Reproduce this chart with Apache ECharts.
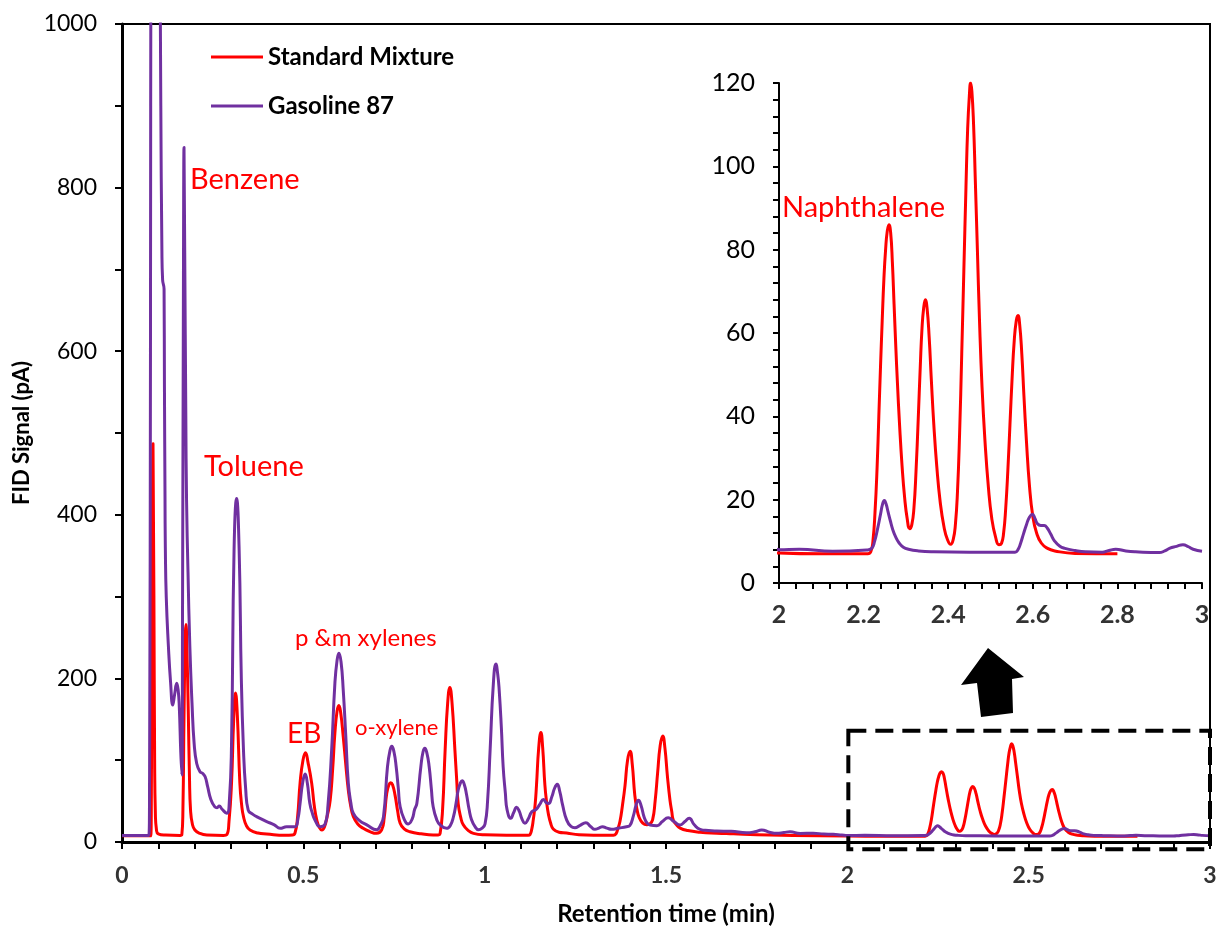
<!DOCTYPE html>
<html>
<head>
<meta charset="utf-8">
<script src="https://cdn.jsdelivr.net/npm/echarts@6/dist/echarts.min.js"></script>
<style>
html, body { margin: 0; padding: 0; background: #fff; }
#chart { width: 1225px; height: 931px; }
</style>
</head>
<body>
<div id="chart"></div>
<script>
// retention time (min), FID signal (pA)
const standardMix = [
	[0, 7.5], [0.079, 7.5], [0.081, 60], [0.083, 300], [0.0855, 487], [0.088, 300], [0.09, 100], [0.092, 35],
	[0.095, 15], [0.1, 10], [0.12, 8.5], [0.16, 8], [0.165, 9], [0.168, 40], [0.171, 153], [0.174, 240],
	[0.1765, 266], [0.179, 235], [0.183, 153], [0.186, 80], [0.189, 39], [0.194, 22], [0.201, 14.7], [0.215, 10.5],
	[0.234, 8.6], [0.28, 8], [0.289, 9], [0.295, 25], [0.302, 72], [0.308, 150], [0.313, 182], [0.318, 155],
	[0.325, 72], [0.33, 45], [0.335, 31], [0.343, 20], [0.353, 14.7], [0.375, 11], [0.399, 9.8], [0.45, 8.2],
	[0.47, 8.5], [0.477, 11], [0.484, 30], [0.491, 72], [0.499, 100], [0.506, 109], [0.513, 97], [0.523, 72],
	[0.53, 45], [0.537, 27], [0.544, 18], [0.551, 14.7], [0.558, 18], [0.566, 32], [0.574, 51], [0.581, 90],
	[0.587, 133], [0.593, 160], [0.598, 167], [0.603, 158], [0.61, 129], [0.617, 95], [0.624, 63.6], [0.631, 43],
	[0.638, 31], [0.65, 22], [0.665, 16.7], [0.682, 13], [0.702, 10.6], [0.716, 14.7], [0.723, 30], [0.73, 59.5],
	[0.736, 70], [0.741, 72.5], [0.746, 70], [0.753, 57], [0.76, 38], [0.767, 23], [0.778, 16], [0.794, 12.6],
	[0.825, 10], [0.858, 8.6], [0.872, 8.6], [0.877, 10], [0.884, 40], [0.891, 112.5], [0.898, 170], [0.904, 189],
	[0.91, 170], [0.918, 112], [0.923, 75], [0.927, 47], [0.934, 30], [0.941, 21], [0.955, 14], [0.969, 10.6],
	[1.0, 8.8], [1.06, 8.2], [1.12, 8.2], [1.125, 9], [1.13, 16], [1.134, 27], [1.139, 45], [1.143, 70],
	[1.149, 115], [1.155, 134], [1.16, 115], [1.166, 70], [1.171, 48], [1.176, 33.5], [1.182, 23], [1.189, 16],
	[1.205, 12], [1.226, 11], [1.26, 8.8], [1.3, 8.2], [1.355, 8.2], [1.362, 10], [1.367, 16], [1.373, 25],
	[1.38, 45], [1.387, 69], [1.394, 100], [1.401, 111], [1.407, 95], [1.414, 57], [1.42, 40], [1.426, 30],
	[1.436, 23], [1.447, 21], [1.455, 22], [1.463, 27], [1.47, 50], [1.477, 85], [1.484, 118], [1.491, 129.6],
	[1.497, 115], [1.504, 80], [1.511, 51], [1.516, 37], [1.52, 27], [1.529, 21], [1.539, 17], [1.56, 14],
	[1.594, 12], [1.64, 10.8], [1.686, 10], [1.75, 8.8], [1.85, 8], [2.0, 7.2], [2.1, 7], [2.21, 7],
	[2.217, 7.5], [2.222, 10], [2.227, 17], [2.232, 28], [2.236, 40], [2.24, 52], [2.244, 63], [2.248, 73],
	[2.252, 80], [2.256, 84.5], [2.26, 86], [2.264, 84], [2.268, 77], [2.272, 67], [2.276, 57], [2.28, 48],
	[2.285, 38], [2.291, 28], [2.297, 20.5], [2.303, 15.5], [2.309, 13], [2.314, 14], [2.319, 18], [2.324, 27],
	[2.329, 39], [2.334, 52], [2.338, 61], [2.342, 66], [2.346, 68], [2.35, 66], [2.355, 59], [2.36, 49],
	[2.366, 38], [2.373, 28], [2.381, 19.5], [2.39, 13.5], [2.398, 10.5], [2.406, 9.3], [2.412, 10.5], [2.417, 14],
	[2.422, 22], [2.427, 36], [2.432, 55], [2.437, 75], [2.442, 95], [2.446, 109], [2.45, 117], [2.453, 120],
	[2.456, 118], [2.46, 110], [2.464, 97], [2.469, 80], [2.474, 63], [2.48, 47], [2.487, 34], [2.495, 23],
	[2.503, 15.5], [2.512, 11], [2.52, 9.2], [2.526, 9.5], [2.531, 12], [2.536, 18], [2.541, 27], [2.546, 38],
	[2.551, 49], [2.556, 58], [2.561, 63], [2.565, 64.2], [2.569, 62], [2.574, 55], [2.579, 45], [2.585, 34],
	[2.592, 23.5], [2.6, 16], [2.609, 12], [2.62, 9.6], [2.635, 8.3], [2.652, 7.7], [2.7, 7.1], [2.8, 7]
];

const gasoline87 = [
	[0, 8], [0.074, 8], [0.076, 80], [0.0785, 600], [0.08, 1200], [0.088, 1700], [0.098, 1500], [0.104, 1150],
	[0.107, 900], [0.11, 724], [0.112, 687], [0.116, 676], [0.117, 560], [0.1186, 420], [0.1195, 360], [0.122, 300],
	[0.128, 239], [0.134, 195], [0.14, 167.5], [0.145, 180], [0.151, 194], [0.155, 185], [0.158, 165], [0.162, 110],
	[0.165, 82], [0.167, 300], [0.1695, 700], [0.171, 849], [0.173, 720], [0.176, 520], [0.178, 418], [0.182, 330],
	[0.187, 240], [0.193, 170], [0.199, 120], [0.206, 96], [0.215, 86], [0.222, 84], [0.229, 80], [0.236, 68],
	[0.245, 52], [0.256, 43], [0.262, 42], [0.268, 44], [0.276, 40], [0.289, 35], [0.296, 50], [0.302, 120],
	[0.309, 357], [0.316, 420], [0.323, 357], [0.329, 200], [0.335, 112], [0.341, 65], [0.348, 39], [0.36, 34],
	[0.371, 31], [0.385, 28], [0.399, 25], [0.42, 21], [0.436, 16.7], [0.454, 18.7], [0.477, 18.7], [0.485, 28],
	[0.491, 47], [0.498, 72], [0.505, 83], [0.511, 72], [0.518, 47], [0.525, 35], [0.532, 27], [0.546, 18.7],
	[0.56, 22], [0.568, 45], [0.578, 112], [0.587, 194], [0.593, 222], [0.598, 230.6], [0.604, 220], [0.61, 186],
	[0.617, 130], [0.624, 72], [0.631, 48], [0.638, 35], [0.655, 26], [0.675, 21], [0.702, 15], [0.712, 20],
	[0.721, 31], [0.732, 92], [0.739, 112], [0.744, 117], [0.75, 110], [0.756, 92], [0.762, 65], [0.767, 43],
	[0.778, 28], [0.789, 22], [0.8, 28], [0.807, 40], [0.813, 47], [0.824, 92], [0.83, 110], [0.835, 114.5],
	[0.841, 108], [0.847, 92], [0.853, 65], [0.858, 43], [0.868, 27], [0.877, 21], [0.895, 16.7], [0.905, 20],
	[0.914, 31], [0.921, 47], [0.927, 63.6], [0.933, 72], [0.938, 75], [0.944, 70], [0.95, 58], [0.957, 40],
	[0.964, 27], [0.973, 19], [0.983, 15], [0.993, 17], [1.001, 22], [1.008, 50], [1.015, 112], [1.024, 194],
	[1.031, 217.6], [1.036, 205], [1.04, 186], [1.046, 140], [1.051, 92], [1.057, 60], [1.062, 39], [1.072, 29],
	[1.08, 36], [1.088, 42.5], [1.095, 38], [1.103, 28], [1.111, 23], [1.12, 28], [1.13, 37], [1.142, 40],
	[1.152, 46], [1.162, 52], [1.17, 48], [1.176, 47], [1.185, 55], [1.193, 66], [1.2, 70.5], [1.207, 62],
	[1.215, 45], [1.226, 27], [1.238, 19], [1.249, 17.5], [1.262, 20], [1.279, 23.6], [1.292, 19], [1.304, 15.5],
	[1.315, 17], [1.325, 18.7], [1.337, 17], [1.35, 15.5], [1.37, 17], [1.391, 18.7], [1.4, 20], [1.41, 32],
	[1.418, 46], [1.424, 51], [1.431, 45], [1.44, 30], [1.448, 23], [1.456, 20.8], [1.475, 20], [1.49, 25],
	[1.506, 29.7], [1.522, 25], [1.539, 20.8], [1.552, 25], [1.564, 29], [1.578, 21], [1.594, 15.5], [1.617, 14],
	[1.64, 13.4], [1.68, 13], [1.722, 11.4], [1.745, 12.5], [1.764, 14.7], [1.785, 12], [1.805, 10.6], [1.825, 11.5],
	[1.842, 12.6], [1.87, 10.5], [1.906, 10.6], [1.935, 9.8], [1.961, 9.4], [1.985, 8.5], [2.0, 8.0], [2.048, 8.1],
	[2.127, 7.6], [2.207, 7.9], [2.219, 8.3], [2.226, 10], [2.233, 13], [2.24, 16.5], [2.245, 19], [2.249, 19.8],
	[2.253, 19], [2.258, 17], [2.263, 15], [2.269, 12.8], [2.276, 11], [2.284, 9.6], [2.294, 8.6], [2.306, 8.1],
	[2.33, 7.7], [2.366, 7.5], [2.45, 7.4], [2.558, 7.4], [2.565, 8], [2.571, 9.5], [2.578, 11.8], [2.585, 14],
	[2.592, 15.8], [2.599, 16.5], [2.605, 15.5], [2.611, 14.2], [2.619, 13.8], [2.627, 13.8], [2.634, 13.2], [2.642, 11.8],
	[2.652, 10], [2.664, 8.8], [2.676, 8.3], [2.7, 7.8], [2.724, 7.5], [2.764, 7.4], [2.78, 7.8], [2.796, 8.1],
	[2.82, 7.7], [2.843, 7.5], [2.899, 7.3], [2.912, 7.7], [2.923, 8.3], [2.94, 8.8], [2.955, 9.2], [2.968, 8.7],
	[2.979, 8.1], [3.0, 7.6]
];

const seriesNames = ["Standard Mixture", "Gasoline 87"];
const seriesColors = ["#FF0000", "#7030A0"];
const peakLabels = [
	{ text: "Benzene", x: 190, y: 180, size: 29 },
	{ text: "Toluene", x: 204, y: 467, size: 29 },
	{ text: "p &m xylenes", x: 295, y: 638, size: 24 },
	{ text: "EB", x: 287, y: 734, size: 28 },
	{ text: "o-xylene", x: 355, y: 728, size: 22 },
	{ text: "Naphthalene", x: 782, y: 208, size: 29 }
];

const FONT = "Lato";
const chart = echarts.init(document.getElementById("chart"));

const axisCommon = (width, tickLen) => ({
	axisLine: { onZero: false, lineStyle: { color: "#000", width: width } },
	axisTick: { show: true, inside: false, length: tickLen, lineStyle: { color: "#000", width: 2 } },
	splitLine: { show: false }
});

const lineSeries = (idx, data, gridIdx) => ({
	name: seriesNames[idx],
	type: "line",
	xAxisIndex: gridIdx,
	yAxisIndex: gridIdx,
	data: data,
	showSymbol: false,
	smooth: 0.5,
	animation: false,
	lineStyle: { color: seriesColors[idx], width: 3 },
	itemStyle: { color: seriesColors[idx] }
});

const option = {
	animation: false,
	backgroundColor: "#fff",
	textStyle: { fontFamily: FONT },
	grid: [
		{ left: 122, top: 24, right: 15, bottom: 89, show: true, borderColor: "#000", borderWidth: 2, backgroundColor: "transparent" },
		{ left: 779, top: 83, right: 23, bottom: 348 }
	],
	legend: {
		data: seriesNames,
		orient: "vertical",
		left: 211,
		top: 45,
		padding: 0,
		itemGap: 25,
		itemWidth: 52,
		itemHeight: 3,
		icon: "rect",
		textStyle: { fontFamily: FONT, fontWeight: "bold", fontSize: 24, color: "#000" }
	},
	xAxis: [
		{
			gridIndex: 0, type: "value", min: 0, max: 3, interval: 0.5,
			...axisCommon(3, 7),
			minorTick: { show: true, splitNumber: 5, length: 7, lineStyle: { color: "#000", width: 2 } },
			axisLabel: { fontFamily: FONT, fontWeight: "bold", fontSize: 23, color: "#333", margin: 22 },
			name: "Retention time (min)", nameLocation: "middle", nameGap: 60,
			nameTextStyle: { fontFamily: FONT, fontWeight: "bold", fontSize: 24, color: "#000" }
		},
		{
			gridIndex: 1, type: "value", min: 2, max: 3, interval: 0.2,
			...axisCommon(2, 6),
			minorTick: { show: true, splitNumber: 5, length: 6, lineStyle: { color: "#000", width: 2 } },
			axisLabel: { fontFamily: FONT, fontWeight: "bold", fontSize: 25, color: "#333", margin: 19 }
		}
	],
	yAxis: [
		{
			gridIndex: 0, type: "value", min: 0, max: 1000, interval: 200,
			...axisCommon(3, 7),
			minorTick: { show: true, splitNumber: 2, length: 7, lineStyle: { color: "#000", width: 2 } },
			axisLabel: { fontFamily: FONT, fontSize: 23, color: "#000", margin: 25, formatter: (v) => String(v) },
			name: "FID Signal (pA)", nameLocation: "middle", nameGap: 88,
			nameTextStyle: { fontFamily: FONT, fontWeight: "bold", fontSize: 22, color: "#000" }
		},
		{
			gridIndex: 1, type: "value", min: 0, max: 120, interval: 20,
			...axisCommon(2, 6),
			minorTick: { show: true, splitNumber: 5, length: 6, lineStyle: { color: "#000", width: 2 } },
			axisLabel: { fontFamily: FONT, fontSize: 25, color: "#000", margin: 24 }
		}
	],
	series: [
		lineSeries(0, standardMix, 0),
		lineSeries(1, gasoline87, 0),
		lineSeries(0, standardMix, 1),
		lineSeries(1, gasoline87, 1)
	]
};

chart.setOption(option);

// dashed box marking the zoomed region, from data coordinates
const boxTL = chart.convertToPixel({ gridIndex: 0 }, [2, 136]);
const boxBR = chart.convertToPixel({ gridIndex: 0 }, [3, -9]);

const graphics = peakLabels.map((l) => ({
	type: "text",
	x: l.x,
	y: l.y,
	z: 50,
	style: { text: l.text, fill: "#FF0000", fontSize: l.size, fontFamily: FONT, verticalAlign: "middle" }
}));
graphics.push({
	type: "rect",
	z: 60,
	shape: { x: boxTL[0] + 1, y: boxTL[1], width: boxBR[0] - boxTL[0] - 1, height: boxBR[1] - boxTL[1] },
	style: { fill: "none", stroke: "#000", lineWidth: 4, lineDash: [18, 9] }
});
graphics.push({
	type: "polygon",
	z: 60,
	shape: { points: [[988, 648], [1024, 677], [1012, 679], [1013, 713], [981, 717], [977, 683], [961, 685]] },
	style: { fill: "#000" }
});

chart.setOption({ graphic: graphics });
</script>
</body>
</html>
